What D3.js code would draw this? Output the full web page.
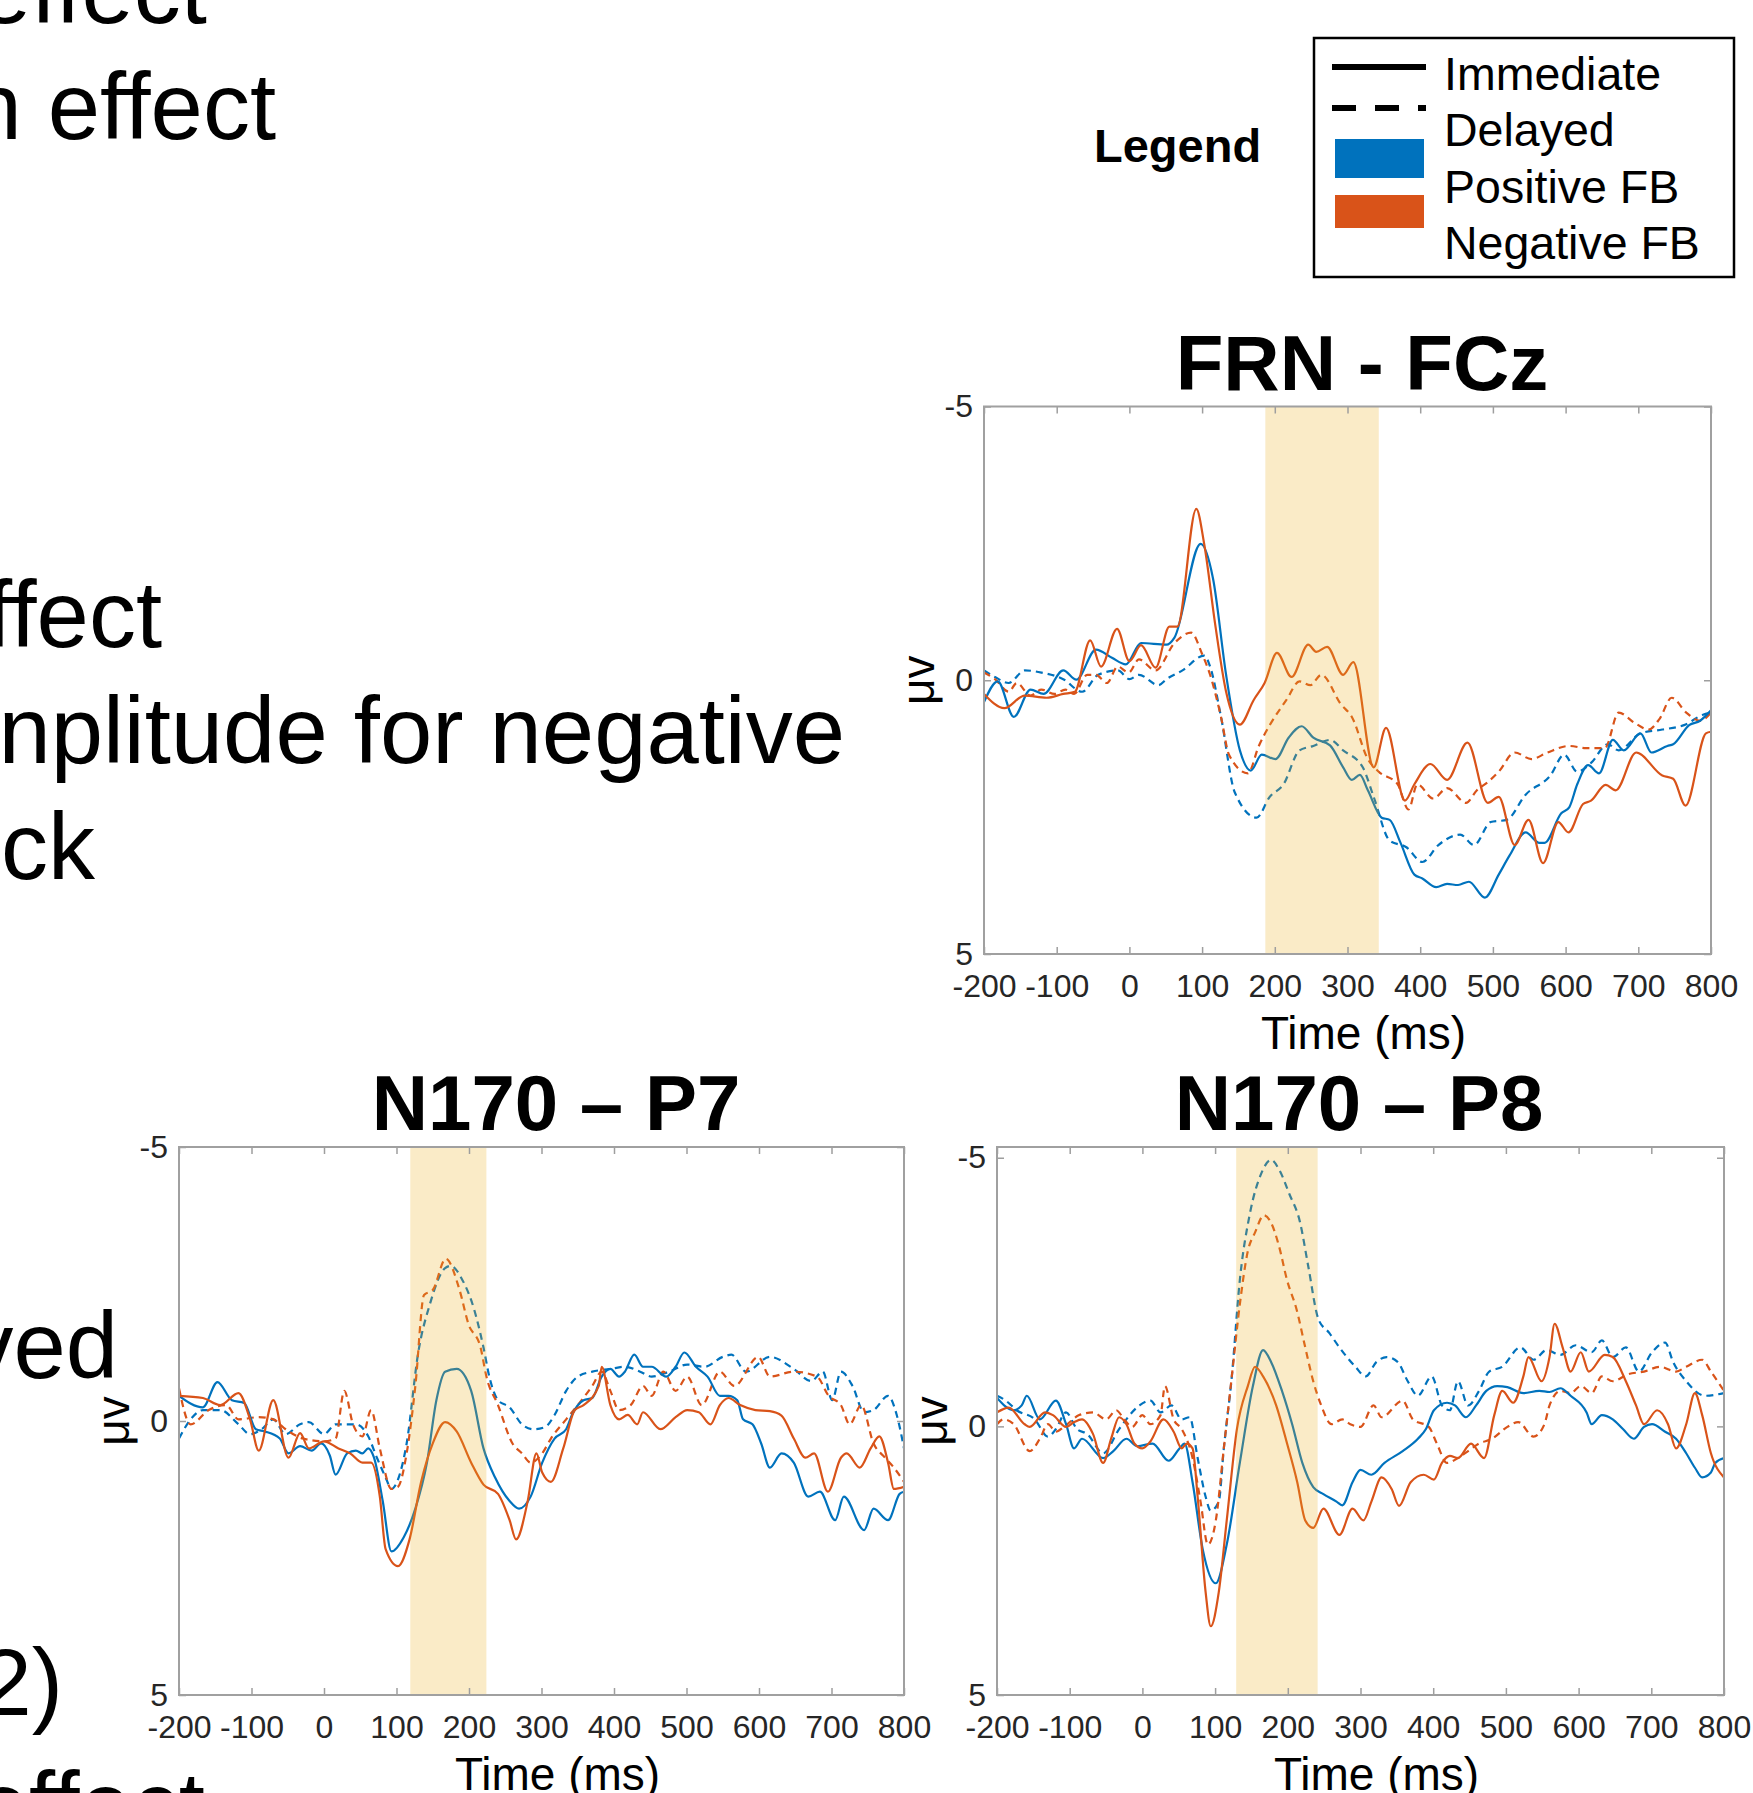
<!DOCTYPE html>
<html><head><meta charset="utf-8">
<script src="https://cdn.jsdelivr.net/npm/d3@7"></script>
<style>body{margin:0;background:#fff;overflow:hidden} svg{display:block}</style>
</head><body>
<svg id="c" width="1753" height="1793"></svg>
<script>
// ---------------- DATA ----------------
const xTicks = [-200, -100, 0, 100, 200, 300, 400, 500, 600, 700, 800];
const yTicks = [-5, 0, 5];
const legendLabels = ["Immediate", "Delayed", "Positive FB", "Negative FB"];
const panelTitles = ["FRN - FCz", "N170 – P7", "N170 – P8"];
const shadeWindows = [[187, 343], [119, 224], [129, 241]];
const yDomains = [[-5, 5], [-5, 5], [-5.2, 5]];

// FRN - FCz  [time ms, amplitude µV]
const frnImmPos = [[-200,0.40],[-181,0.02],[-159,0.67],[-136,0.17],[-118,0.25],[-91,-0.18],[-73,-0.01],[-46,-0.56],[-24,-0.41],[-5,-0.29],[16,-0.68],[51,-0.65],[62,-0.78],[98,-2.49],[115,-1.86],[133,-0.10],[152,1.28],[167,1.65],[182,1.36],[201,1.44],[219,1.05],[237,0.84],[253,1.05],[276,1.19],[294,1.59],[306,1.82],[317,1.73],[328,2.01],[347,2.51],[358,2.55],[373,2.97],[392,3.55],[403,3.62],[422,3.78],[437,3.72],[452,3.74],[467,3.68],[489,3.97],[508,3.55],[523,3.20],[545,2.78],[564,2.97],[571,2.97],[594,2.43],[605,2.32],[616,1.90],[631,1.55],[646,1.70],[665,1.09],[680,1.28],[703,0.97],[718,1.32],[740,1.20],[748,1.17],[770,0.82],[785,0.74],[800,0.55]];
const frnImmNeg = [[-200,0.25],[-172,0.51],[-144,0.28],[-114,0.32],[-91,0.25],[-75,0.21],[-54,-0.73],[-39,-0.25],[-17,-0.94],[0,-0.35],[16,-0.64],[36,-0.23],[55,-0.98],[66,-0.98],[92,-3.13],[103,-2.48],[118,-1.02],[133,0.21],[152,0.81],[171,0.36],[186,0.05],[203,-0.50],[223,-0.06],[246,-0.65],[257,-0.52],[272,-0.61],[294,-0.10],[308,-0.33],[336,1.59],[353,0.87],[379,2.20],[392,1.90],[414,1.53],[437,1.82],[465,1.14],[493,2.24],[508,2.13],[530,3.01],[549,2.55],[569,3.34],[590,2.59],[604,2.78],[624,2.26],[635,2.20],[655,1.91],[669,2.01],[697,1.32],[733,1.74],[748,1.80],[765,2.29],[793,0.97],[800,0.94]];
const frnDelPos = [[-200,-0.18],[-185,-0.06],[-166,0.05],[-144,-0.18],[-121,-0.14],[-91,-0.02],[-65,0.21],[-43,-0.10],[-16,-0.18],[0,-0.02],[13,-0.10],[40,0.09],[51,-0.02],[73,-0.18],[103,-0.45],[111,-0.25],[126,0.67],[145,2.05],[175,2.51],[193,2.13],[212,1.90],[234,1.28],[253,1.20],[276,1.09],[294,1.28],[321,1.59],[336,2.13],[358,2.93],[381,3.05],[403,3.32],[425,3.01],[455,2.82],[474,3.01],[497,2.59],[519,2.55],[545,2.09],[579,1.74],[598,1.36],[616,1.67],[635,1.51],[658,1.17],[673,1.28],[703,0.97],[733,0.90],[763,0.82],[789,0.63],[800,0.59]];
const frnDelNeg = [[-200,-0.14],[-185,-0.02],[-166,0.21],[-155,0.05],[-136,0.28],[-121,0.17],[-103,0.25],[-88,0.17],[-76,0.25],[-58,-0.10],[-46,-0.10],[-31,0.05],[-16,-0.25],[-1,-0.14],[13,-0.38],[36,-0.18],[62,-0.68],[85,-0.87],[100,-0.48],[111,-0.10],[126,0.67],[137,1.36],[163,1.70],[178,1.20],[193,0.82],[216,0.36],[234,0.02],[249,0.09],[264,-0.10],[291,0.44],[306,0.67],[328,1.44],[343,1.67],[369,1.90],[384,2.36],[396,1.90],[418,2.16],[437,1.97],[463,2.24],[478,2.01],[493,1.86],[508,1.67],[530,1.32],[553,1.44],[575,1.32],[605,1.20],[628,1.24],[654,1.24],[673,0.59],[695,0.78],[714,0.90],[729,0.71],[746,0.32],[766,0.59],[785,0.74],[800,0.59]];

// N170 - P7
const p7ImmPos = [[-200,-0.46],[-167,-0.25],[-147,-0.71],[-127,-0.38],[-110,-0.33],[-94,0.15],[-82,0.19],[-61,0.32],[-49,0.59],[-33,0.46],[-17,0.54],[-4,0.41],[8,0.63],[16,0.98],[32,0.59],[44,0.54],[53,0.59],[61,0.50],[69,0.67],[81,1.46],[93,2.38],[110,2.12],[126,1.60],[142,0.76],[155,-0.38],[167,-0.90],[183,-0.95],[203,-0.55],[220,0.50],[236,1.03],[256,1.46],[269,1.60],[285,1.38],[301,0.76],[318,0.32],[334,0.15],[342,-0.11],[358,-0.38],[370,-0.42],[383,-0.81],[395,-0.95],[407,-0.81],[415,-0.90],[428,-1.21],[440,-0.99],[452,-0.99],[472,-0.81],[485,-0.99],[497,-1.25],[513,-0.99],[529,-0.81],[546,-0.46],[558,-0.46],[570,-0.38],[578,-0.03],[591,0.06],[603,0.41],[615,0.85],[631,0.59],[648,0.76],[668,1.38],[684,1.29],[705,1.81],[717,1.38],[745,1.99],[758,1.60],[778,1.81],[794,1.33],[800,1.29]];
const p7ImmNeg = [[-200,-0.46],[-167,-0.42],[-143,-0.29],[-118,-0.51],[-102,-0.03],[-90,0.54],[-70,-0.38],[-49,0.67],[-33,0.22],[-21,0.50],[0,0.37],[20,0.50],[36,0.59],[53,0.76],[65,0.76],[77,1.38],[85,2.34],[102,2.65],[118,2.16],[134,1.11],[150,0.41],[167,0.02],[183,0.19],[203,0.76],[220,1.16],[240,1.33],[256,1.81],[265,2.16],[281,1.46],[293,0.59],[301,0.94],[313,1.11],[330,0.50],[346,-0.20],[358,-0.29],[379,-0.64],[383,-0.99],[395,-0.29],[407,-0.03],[419,-0.11],[432,0.06],[440,-0.16],[464,0.15],[485,-0.07],[501,-0.20],[517,-0.16],[533,0.06],[546,-0.29],[558,-0.42],[574,-0.29],[595,-0.20],[615,-0.18],[631,-0.10],[648,0.32],[664,0.67],[676,0.59],[695,1.29],[713,0.67],[721,0.59],[739,0.85],[754,0.50],[766,0.28],[778,0.76],[786,1.24],[800,1.20]];
const p7DelPos = [[-200,0.32],[-184,-0.03],[-167,-0.20],[-143,-0.20],[-118,0.06],[-102,0.24],[-86,0.15],[-70,-0.03],[-53,0.24],[-33,0.06],[-21,0.02],[0,0.24],[16,0.06],[44,0.06],[61,0.28],[73,0.67],[85,1.03],[93,1.24],[102,1.07],[114,0.41],[130,-1.25],[146,-2.13],[167,-2.79],[175,-2.83],[191,-2.57],[207,-2.04],[220,-1.34],[228,-0.81],[240,-0.38],[256,-0.25],[273,0.06],[289,0.15],[305,0.11],[318,-0.11],[334,-0.55],[350,-0.81],[370,-0.90],[395,-0.95],[415,-0.99],[436,-0.90],[452,-0.81],[476,-0.90],[501,-1.03],[525,-0.99],[550,-1.17],[562,-1.21],[582,-0.90],[615,-1.17],[648,-0.95],[672,-0.73],[688,-0.90],[701,-0.38],[713,-0.90],[729,-0.64],[745,-0.16],[758,-0.20],[778,-0.46],[790,-0.11],[800,0.50]];
const p7DelNeg = [[-200,-0.60],[-184,0.06],[-159,-0.20],[-135,-0.29],[-118,-0.03],[-90,-0.07],[-70,-0.03],[-53,0.15],[-29,0.32],[0,0.37],[16,0.32],[28,-0.55],[40,0.06],[53,0.28],[65,-0.20],[77,0.50],[93,1.24],[102,1.20],[114,0.59],[126,-0.64],[138,-2.30],[150,-2.39],[168,-2.96],[187,-2.39],[199,-1.78],[216,-1.34],[224,-0.81],[240,-0.29],[260,0.41],[273,0.59],[285,0.76],[301,0.59],[313,0.32],[334,-0.03],[350,-0.29],[370,-0.64],[383,-0.90],[395,-0.55],[407,-0.20],[423,-0.29],[440,-0.64],[452,-0.46],[468,-0.90],[485,-0.55],[501,-0.81],[521,-0.29],[546,-0.90],[566,-0.64],[599,-1.17],[615,-0.81],[648,-0.90],[680,-0.81],[696,-0.46],[713,-0.29],[725,0.06],[741,-0.29],[758,0.41],[774,0.67],[786,0.85],[800,1.11]];

// N170 - P8
const p8ImmPos = [[-200,-0.53],[-177,-0.30],[-166,-0.39],[-159,-0.57],[-141,-0.13],[-119,-0.48],[-105,-0.04],[-94,0.41],[-83,0.23],[-54,0.59],[-40,0.46],[-22,0.23],[-7,0.37],[14,0.32],[36,0.64],[51,0.41],[58,0.32],[69,1.04],[83,2.29],[101,2.92],[116,2.20],[134,0.68],[152,-0.75],[166,-1.42],[177,-1.20],[192,-0.66],[206,-0.04],[220,0.68],[235,1.13],[249,1.26],[267,1.40],[275,1.47],[289,1.04],[300,0.81],[315,0.90],[333,0.68],[358,0.46],[379,0.23],[390,0.05],[401,-0.30],[419,-0.44],[430,-0.39],[445,-0.17],[459,-0.39],[473,-0.66],[488,-0.75],[502,-0.73],[524,-0.62],[546,-0.66],[560,-0.64],[575,-0.71],[589,-0.57],[611,-0.26],[618,-0.04],[632,-0.21],[647,-0.13],[661,0.05],[676,0.23],[690,0.01],[701,-0.04],[719,0.10],[734,0.23],[748,0.50],[760,0.77],[770,0.95],[782,0.86],[788,0.68],[800,0.59]];
const p8ImmNeg = [[-200,-0.26],[-184,-0.35],[-162,-0.04],[-155,0.01],[-134,-0.26],[-123,-0.21],[-105,0.01],[-94,-0.08],[-83,-0.13],[-68,0.14],[-54,0.68],[-43,0.23],[-32,-0.17],[-22,-0.04],[-11,0.32],[0,0.41],[11,0.28],[29,-0.13],[43,0.10],[54,0.41],[61,0.32],[69,0.41],[76,1.31],[87,3.09],[94,3.72],[105,3.09],[116,1.75],[130,0.05],[145,-0.75],[155,-1.11],[166,-0.93],[184,-0.39],[199,0.32],[213,1.04],[224,1.75],[235,1.89],[249,1.53],[271,2.02],[289,1.53],[304,1.75],[315,1.40],[329,0.95],[343,1.17],[353,1.48],[369,1.04],[387,0.90],[401,0.99],[412,0.68],[423,0.55],[434,0.59],[452,0.32],[470,0.59],[484,-0.21],[495,-0.66],[510,-0.44],[524,-0.93],[531,-1.29],[549,-0.84],[560,-1.29],[567,-1.91],[578,-1.47],[589,-1.02],[603,-1.38],[614,-1.02],[636,-1.33],[647,-1.29],[665,-0.84],[679,-0.39],[690,-0.04],[708,-0.30],[723,-0.04],[734,0.41],[748,-0.04],[760,-0.62],[770,-0.21],[782,0.50],[800,0.95]];
const p8DelPos = [[-200,-0.57],[-188,-0.48],[-173,-0.30],[-148,-0.13],[-130,0.19],[-119,0.05],[-105,-0.26],[-90,0.05],[-76,0.14],[-54,0.50],[-32,0.05],[-4,-0.39],[11,-0.48],[25,-0.26],[40,-0.39],[54,-0.13],[65,-0.17],[76,0.59],[87,1.31],[94,1.57],[105,1.40],[112,0.41],[123,-0.93],[134,-2.72],[148,-3.97],[163,-4.69],[177,-4.96],[188,-4.78],[202,-4.33],[217,-3.79],[228,-2.99],[242,-2.00],[257,-1.74],[271,-1.47],[293,-1.11],[307,-0.93],[322,-1.20],[336,-1.29],[351,-1.20],[365,-0.84],[379,-0.57],[398,-0.93],[412,-0.39],[423,-0.30],[434,-0.84],[448,-0.39],[463,-0.66],[477,-1.02],[495,-1.11],[520,-1.47],[538,-1.24],[556,-1.42],[575,-1.33],[596,-1.51],[618,-1.38],[632,-1.60],[647,-1.29],[665,-1.47],[683,-1.02],[701,-1.38],[719,-1.56],[730,-1.20],[748,-0.84],[774,-0.57],[800,-0.62]];
const p8DelNeg = [[-200,-0.04],[-191,-0.13],[-177,-0.04],[-155,0.46],[-141,0.23],[-130,-0.04],[-119,0.10],[-108,0.01],[-87,-0.21],[-68,-0.26],[-50,-0.13],[-36,-0.30],[-25,-0.13],[-14,0.01],[0,-0.21],[11,-0.04],[25,-0.21],[31,-0.75],[43,-0.13],[54,0.05],[69,0.59],[80,1.40],[90,2.20],[101,1.75],[112,0.41],[123,-0.93],[134,-2.27],[145,-3.26],[155,-3.61],[167,-3.93],[177,-3.79],[188,-3.35],[199,-2.72],[212,-2.18],[224,-1.47],[235,-0.84],[246,-0.39],[260,-0.04],[275,-0.13],[286,-0.04],[300,0.01],[318,-0.39],[329,-0.17],[358,-0.48],[372,-0.13],[394,0.01],[405,0.32],[419,0.68],[434,0.59],[448,0.46],[463,0.32],[481,0.23],[502,0.01],[517,-0.08],[538,0.19],[553,-0.04],[560,-0.39],[575,-0.66],[589,-0.62],[603,-0.75],[618,-0.62],[632,-0.93],[647,-0.84],[668,-0.97],[690,-1.02],[712,-1.11],[734,-1.02],[748,-1.11],[770,-1.24],[782,-1.02],[800,-0.66]];

// background slide text fragments (visible parts)
const bgText = ["effect", "n effect", "ffect", "nplitude for negative", "ck", "ved", "2)", "effect"];

// ---------------- LAYOUT / STYLE ----------------
const FONT = "'Liberation Sans', Arial, Helvetica, sans-serif";
const BLUE = "#0072BD", ORANGE = "#D95319";
const svg = d3.select("#c");
svg.append("rect").attr("width", 1753).attr("height", 1793).attr("fill", "#fff");

const bgPos = [[207, 23], [276, 139], [162, 647], [845, 763], [95, 879], [118, 1378], [63, 1715], [205, 1838]];
svg.append("g").selectAll("text").data(bgText).join("text")
  .attr("x", (d, i) => bgPos[i][0]).attr("y", (d, i) => bgPos[i][1])
  .attr("text-anchor", "end").attr("font-family", FONT).attr("font-size", 94)
  .attr("fill", "#000").text(d => d);

// Legend
svg.append("text").attr("x", 1094).attr("y", 162).attr("font-family", FONT)
  .attr("font-weight", "bold").attr("font-size", 47).text("Legend");
const lg = svg.append("g");
lg.append("rect").attr("x", 1314).attr("y", 38).attr("width", 420).attr("height", 239)
  .attr("fill", "#fff").attr("stroke", "#000").attr("stroke-width", 2.5);
lg.append("line").attr("x1", 1332).attr("x2", 1426).attr("y1", 67).attr("y2", 67)
  .attr("stroke", "#000").attr("stroke-width", 6);
lg.append("line").attr("x1", 1332).attr("x2", 1426).attr("y1", 108).attr("y2", 108)
  .attr("stroke", "#000").attr("stroke-width", 6).attr("stroke-dasharray", "24,19");
lg.append("rect").attr("x", 1335).attr("y", 139).attr("width", 89).attr("height", 39).attr("fill", BLUE);
lg.append("rect").attr("x", 1335).attr("y", 195).attr("width", 89).attr("height", 33).attr("fill", ORANGE);
const lgY = [90, 146, 203, 259];
lg.selectAll("text.l").data(legendLabels).join("text").attr("class", "l")
  .attr("x", 1444).attr("y", (d, i) => lgY[i]).attr("font-family", FONT)
  .attr("font-size", 46.5).attr("fill", "#000").text(d => d);

// Panels
const panels = [
  { title: panelTitles[0], box: [984, 406.5, 1711, 954], titleX: 1362, series: [frnImmPos, frnImmNeg, frnDelPos, frnDelNeg] },
  { title: panelTitles[1], box: [179, 1147, 904, 1695], titleX: 556, series: [p7ImmPos, p7ImmNeg, p7DelPos, p7DelNeg] },
  { title: panelTitles[2], box: [997, 1147, 1724, 1695], titleX: 1359, series: [p8ImmPos, p8ImmNeg, p8DelPos, p8DelNeg] }
];
const styles = [
  { color: BLUE, dash: null }, { color: ORANGE, dash: null },
  { color: BLUE, dash: "7,5" }, { color: ORANGE, dash: "7,5" }
];
const fmt = d => String(d); // plain hyphen-minus like the reference

panels.forEach((p, pi) => {
  const [x0, y0, x1, y1] = p.box;
  const x = d3.scaleLinear().domain([-200, 800]).range([x0, x1]);
  const y = d3.scaleLinear().domain(yDomains[pi]).range([y0, y1]);
  const g = svg.append("g");
  const cid = "clip" + pi;
  svg.append("clipPath").attr("id", cid).append("rect")
    .attr("x", x0).attr("y", y0).attr("width", x1 - x0).attr("height", y1 - y0);

  const line = d3.line().x(d => x(d[0])).y(d => y(d[1])).curve(d3.curveMonotoneX);
  const lines = g.append("g").attr("clip-path", `url(#${cid})`);
  [2, 3, 0, 1].forEach(si => {
    lines.append("path").attr("d", line(p.series[si])).attr("fill", "none")
      .attr("stroke", styles[si].color).attr("stroke-width", 2.2)
      .attr("stroke-linejoin", "round")
      .attr("stroke-dasharray", styles[si].dash);
  });
  // shaded time window (semi-transparent, on top)
  const sw = shadeWindows[pi];
  g.append("rect").attr("x", x(sw[0])).attr("y", y0).attr("width", x(sw[1]) - x(sw[0]))
    .attr("height", y1 - y0).attr("fill", "rgb(237,177,32)").attr("fill-opacity", 0.25);

  // axes
  const tickCol = "#9e9e9e", labCol = "#262626";
  const styleAxis = sel => {
    sel.select(".domain").remove();
    sel.selectAll(".tick line").attr("stroke", tickCol).attr("stroke-width", 1.5);
    sel.selectAll("text").attr("font-family", FONT).attr("font-size", 32).attr("fill", labCol);
  };
  g.append("g").attr("transform", `translate(0,${y1})`)
    .call(d3.axisBottom(x).tickValues(xTicks).tickSizeInner(-7).tickSizeOuter(0).tickPadding(20).tickFormat(fmt))
    .call(styleAxis);
  g.append("g").attr("transform", `translate(0,${y0})`)
    .call(d3.axisTop(x).tickValues(xTicks).tickSizeInner(-7).tickSizeOuter(0).tickFormat(""))
    .call(styleAxis);
  g.append("g").attr("transform", `translate(${x0},0)`)
    .call(d3.axisLeft(y).tickValues(yTicks).tickSizeInner(-7).tickSizeOuter(0).tickPadding(11).tickFormat(fmt))
    .call(styleAxis);
  g.append("g").attr("transform", `translate(${x1},0)`)
    .call(d3.axisRight(y).tickValues(yTicks).tickSizeInner(-7).tickSizeOuter(0).tickFormat(""))
    .call(styleAxis);
  // box
  g.append("rect").attr("x", x0).attr("y", y0).attr("width", x1 - x0).attr("height", y1 - y0)
    .attr("fill", "none").attr("stroke", "#a0a0a0").attr("stroke-width", 2);

  // labels
  g.append("text").attr("x", (x0 + x1) / 2 + 16).attr("y", y1 + 95).attr("text-anchor", "middle")
    .attr("font-family", FONT).attr("font-size", 46).attr("fill", "#000").text("Time (ms)");
  g.append("text").attr("transform", `translate(${x0 - 50},${(y0 + y1) / 2}) rotate(-90)`)
    .attr("text-anchor", "middle").attr("font-family", FONT).attr("font-size", 46)
    .attr("fill", "#000").text("μv");
  g.append("text").attr("x", p.titleX).attr("y", y0 - 17).attr("text-anchor", "middle")
    .attr("font-family", FONT).attr("font-weight", "bold").attr("font-size", 78)
    .attr("fill", "#000").text(p.title);
});
</script>
</body></html>
